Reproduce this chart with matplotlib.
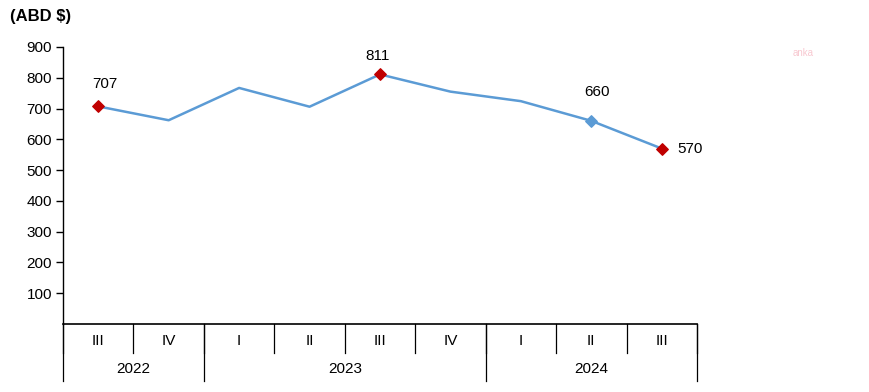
import matplotlib
matplotlib.use("Agg")
import matplotlib.pyplot as plt
from matplotlib import font_manager

quarters = ["III", "IV", "I", "II", "III", "IV", "I", "II", "III"]
years = ["2022", "2023", "2024"]
year_counts = [2, 4, 3]
values = [707, 662, 767, 706, 811, 755, 724, 660, 570]
highlight_red = [0, 4, 8]
highlight_blue = [7]
yticks = [100, 200, 300, 400, 500, 600, 700, 800, 900]

names = {f.name for f in font_manager.fontManager.ttflist}
base = "Liberation Sans" if "Liberation Sans" in names else "DejaVu Sans"
narrow = "Liberation Sans Narrow" if "Liberation Sans Narrow" in names else base
plt.rcParams['font.family'] = [base, "DejaVu Sans"]

fig = plt.figure(figsize=(8.7, 3.92), dpi=100)
W, H = 870, 392
x0, x1, ybot, ytop = 63, 697, 324, 47
ax = fig.add_axes([x0 / W, 1 - ybot / H, (x1 - x0) / W, (ybot - ytop) / H])

n = len(values)
xs = list(range(n))
line_color = "#5B9BD5"
ax.plot(xs, values, color=line_color, lw=1.8, zorder=2)
ax.scatter([xs[i] for i in highlight_red], [values[i] for i in highlight_red],
           marker="D", s=34, color="#C00000", zorder=3)
ax.scatter([xs[i] for i in highlight_blue], [values[i] for i in highlight_blue],
           marker="D", s=34, color=line_color, zorder=3)

ax.set_xlim(-0.5, n - 0.5)
ax.set_ylim(0, 900)
ax.set_yticks(yticks)
ax.set_yticklabels([str(v) for v in yticks], fontsize=11)
ax.tick_params(axis="y", direction="out", length=5, width=1, pad=3, colors="black")
ax.set_xticks([])
for s in ["top", "right"]:
    ax.spines[s].set_visible(False)
ax.spines["left"].set_linewidth(1)
ax.spines["bottom"].set_linewidth(1.2)

# annotations (offsets in points)
offsets = {0: (5, 16, "center"), 4: (-2, 13, "center"),
           7: (4, 21, "center"), 8: (11, 0, "left")}
for i, (dx, dy, ha) in offsets.items():
    ax.annotate(str(values[i]), (xs[i], values[i]), xytext=(dx, dy),
                textcoords="offset points", ha=ha, va="center", fontsize=11)

# category axis (two-level)
trans = ax.get_xaxis_transform()
ax_h_px = ybot - ytop
def yfrac(px):
    return -(px - ybot) / ax_h_px

for i in range(n + 1):
    ax.plot([i - 0.5, i - 0.5], [0, yfrac(353)], transform=trans, color="black",
            lw=0.9, clip_on=False)
for i, q in enumerate(quarters):
    ax.text(i, yfrac(341), q, transform=trans, ha="center", va="center",
            fontsize=11, family=[narrow, "DejaVu Sans"])
pos = 0
bounds = [0]
for y, c in zip(years, year_counts):
    ax.text(pos + c / 2 - 0.5, yfrac(369), y, transform=trans, ha="center",
            va="center", fontsize=11, family=[narrow, "DejaVu Sans"])
    pos += c
    bounds.append(pos)
for b in bounds:
    ax.plot([b - 0.5, b - 0.5], [0, yfrac(381)], transform=trans, color="black",
            lw=0.9, clip_on=False)

fig.text(10 / W, 1 - 16 / H, "(ABD $)", fontsize=12, fontweight="bold",
         ha="left", va="center")
fig.text(803 / W, 1 - 53 / H, "anka", fontsize=7, color="#F8C8D0",
         ha="center", va="center")

fig.savefig("out.png", dpi=100)
